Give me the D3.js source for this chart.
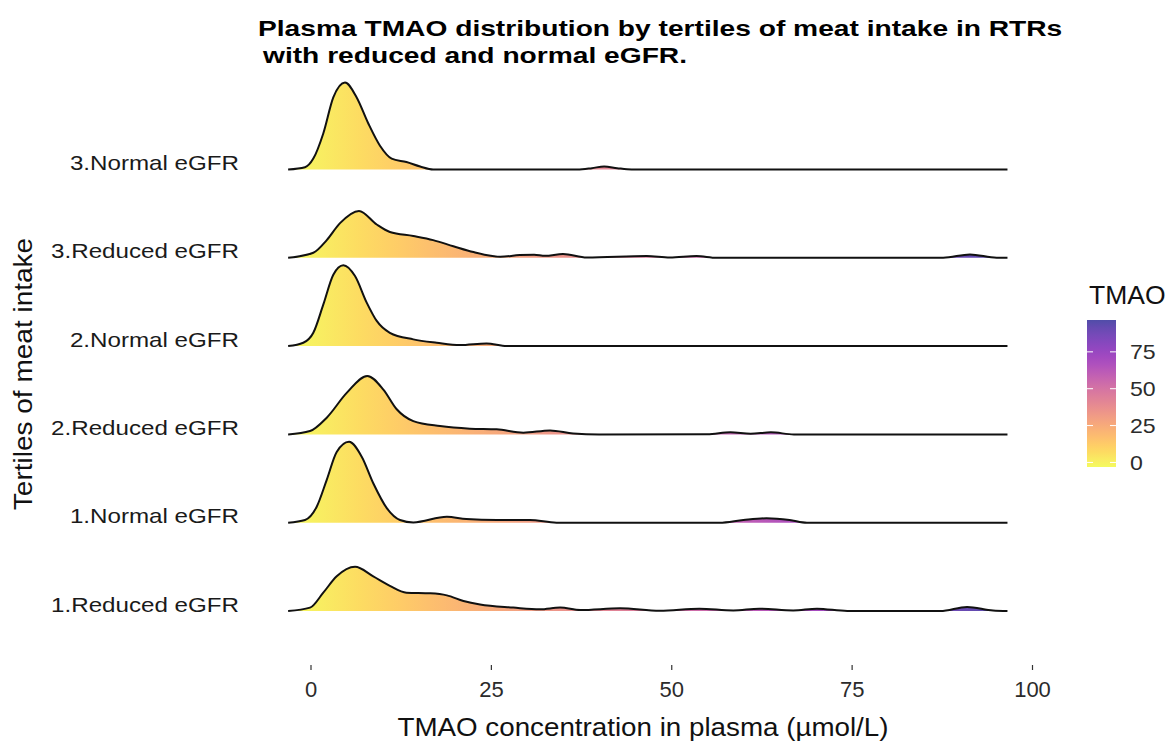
<!DOCTYPE html>
<html>
<head>
<meta charset="utf-8">
<script src="https://cdn.jsdelivr.net/npm/d3@7"></script>
<style>
  body { margin: 0; background: #fff; }
  text { font-family: "Liberation Sans", Arial, sans-serif; }
</style>
</head>
<body>
<div id="chart"></div>
<script>
var categories = ['1.Reduced eGFR', '1.Normal eGFR', '2.Reduced eGFR',
                  '2.Normal eGFR', '3.Reduced eGFR', '3.Normal eGFR'];

// density curves: [TMAO, density]
var reduced1 = [[-3.1, 0], [-0.07, 0.0049], [1.77, 0.027], [3.63, 0.051], [6.17, 0.065],
  [8.7, 0.051], [11.0, 0.037], [13.3, 0.027], [16.6, 0.026], [18.9, 0.023], [21.2, 0.0147],
  [23.5, 0.0094], [28.1, 0.005], [31.8, 0.0025], [34.6, 0.005], [37.4, 0.0015], [42.9, 0.004],
  [48.4, 0.0002], [53.9, 0.0034], [58.6, 0.0007], [62.2, 0.0034], [66.9, 0.0007], [70.2, 0.0034],
  [74.4, 0], [87.3, 0], [91.0, 0.006], [94.6, 0.0007], [96.6, 0]];
var normal1 = [[-3.1, 0], [-0.76, 0.004], [0.86, 0.0235], [2.25, 0.063], [3.63, 0.104],
  [5.34, 0.119], [7.1, 0.097], [8.7, 0.058], [10.6, 0.021], [12.4, 0.004], [14.25, 0.0004],
  [18.9, 0.0088], [21.6, 0.0054], [25.8, 0.004], [30.4, 0.004], [34.1, 0], [56.7, 0],
  [60, 0.004], [63.2, 0.0065], [66.4, 0.004], [68.8, 0], [96.6, 0]];
var reduced2 = [[-3.1, 0], [-0.07, 0.0049], [2.25, 0.0246], [5.02, 0.061], [7.87, 0.086],
  [10.1, 0.066], [11.95, 0.037], [14.25, 0.0196], [17.95, 0.0122], [22.1, 0.0084],
  [25.8, 0.0074], [29.5, 0.0025], [33.2, 0.0059], [36.4, 0.0015], [40, 0], [55, 0.0002],
  [58.2, 0.003], [61, 0.001], [63.8, 0.003], [67, 0], [96.6, 0]];
var normal2 = [[-3.1, 0], [-1.0, 0.0049], [0.39, 0.0196], [1.77, 0.061], [3.16, 0.105],
  [4.55, 0.119], [6.17, 0.103], [7.79, 0.064], [9.18, 0.037], [11.0, 0.0196], [14.25, 0.0099],
  [17.5, 0.0049], [20.7, 0.0015], [24.4, 0.004], [27.2, 0], [96.6, 0]];
var reduced3 = [[-3.1, 0], [0.39, 0.0074], [2.25, 0.026], [4.09, 0.051], [6.72, 0.069],
  [9.18, 0.049], [11.0, 0.038], [14.25, 0.032], [17.0, 0.026], [19.8, 0.017], [22.6, 0.0084],
  [26.3, 0.0015], [29, 0.004], [31, 0.0045], [32.5, 0.003], [35, 0.0055], [38.3, 0.0003],
  [46.6, 0.0025], [49.8, 0.0003], [53.5, 0.0025], [56.3, 0], [87.7, 0], [91.4, 0.005],
  [95.1, 0], [96.6, 0]];
var normal3 = [[-3.1, 0], [-0.76, 0.0034], [0.39, 0.016], [1.77, 0.053], [3.16, 0.106],
  [4.78, 0.128], [6.4, 0.106], [8.0, 0.068], [9.63, 0.035], [11.25, 0.016], [13.3, 0.011],
  [15.2, 0.0044], [17.0, 0], [37, 0], [39, 0.002], [40.7, 0.0045], [42.5, 0.002], [44.5, 0],
  [96.6, 0]];

var curves = [reduced1, normal1, reduced2, normal2, reduced3, normal3];
var xTicks = [0, 25, 50, 75, 100];
var legendTicks = [0, 25, 50, 75];
var tmaoRange = [-3.1, 96.6];

var w = 1176, h = 742;

var svg = d3.select('#chart').append('svg')
  .attr('width', w).attr('height', h);

var x = d3.scaleLinear().domain([0, 100]).range([310.5, 1032]);
var y = d3.scalePoint().domain(categories).range([611, 169.5]);
var dens = d3.scaleLinear().domain([0, 0.13]).range([0, 88.4]);

// the picture's lettering runs a bit wider than Liberation Sans
function stretch(sel, k) {
  sel.each(function() {
    var len = this.getComputedTextLength();
    d3.select(this).attr('textLength', len * k).attr('lengthAdjust', 'spacingAndGlyphs');
  });
}

// gradient by TMAO value, shared by every ridge
var defs = svg.append('defs');
var stops = d3.range(0, 1.0001, 0.05);
defs.append('linearGradient')
  .attr('id', 'ridgeFill')
  .attr('gradientUnits', 'userSpaceOnUse')
  .attr('x1', x(tmaoRange[0])).attr('x2', x(tmaoRange[1]))
  .attr('y1', 0).attr('y2', 0)
  .selectAll('stop').data(stops).enter().append('stop')
  .attr('offset', function(d) { return d; })
  .attr('stop-color', function(d) { return d3.interpolatePlasma(1 - d); });

defs.append('linearGradient')
  .attr('id', 'legendFill')
  .attr('x1', 0).attr('x2', 0).attr('y1', 1).attr('y2', 0)
  .selectAll('stop').data(stops).enter().append('stop')
  .attr('offset', function(d) { return d; })
  .attr('stop-color', function(d) { return d3.interpolatePlasma(1 - d); });

var area = d3.area()
  .x(function(d) { return x(d[0]); })
  .y0(0)
  .y1(function(d) { return -dens(d[1]); })
  .curve(d3.curveMonotoneX);
var line = area.lineY1();

// top ridge first so lower ones sit in front
var ridges = svg.selectAll('g.ridge')
  .data(d3.range(categories.length).reverse())
  .enter().append('g')
  .attr('class', 'ridge')
  .attr('transform', function(i) { return 'translate(0,' + y(categories[i]) + ')'; });

ridges.append('path')
  .attr('d', function(i) { return area(curves[i]); })
  .attr('fill', 'url(#ridgeFill)')
  .attr('fill-opacity', 0.72);

ridges.append('path')
  .attr('d', function(i) { return line(curves[i]); })
  .attr('fill', 'none')
  .attr('stroke', '#111')
  .attr('stroke-width', 2);

// y labels
svg.selectAll('text.ylab')
  .data(categories)
  .enter().append('text')
  .attr('class', 'ylab')
  .text(function(d) { return d; })
  .attr('x', 239)
  .attr('y', function(d) { return y(d) + 0.5; })
  .attr('text-anchor', 'end')
  .attr('font-size', '21px')
  .attr('fill', '#1a1a1a')
  .call(stretch, 1.15);

// x axis
var xAxis = svg.append('g')
  .attr('transform', 'translate(0,665)')
  .call(d3.axisBottom(x).tickValues(xTicks).tickSize(5));
xAxis.select('.domain').remove();
xAxis.selectAll('line').attr('stroke', '#333').attr('stroke-width', 1.2);
xAxis.selectAll('text')
  .attr('y', 32).attr('dy', null)
  .attr('font-size', '22px')
  .attr('fill', '#2b2b2b')
  .style('font-family', '"Liberation Sans", Arial, sans-serif');

svg.append('text')
  .text('TMAO concentration in plasma (µmol/L)')
  .attr('x', 643).attr('y', 736)
  .attr('text-anchor', 'middle')
  .attr('font-size', '25px')
  .attr('fill', '#111')
  .call(stretch, 1.11);

svg.append('text')
  .text('Tertiles of meat intake')
  .attr('transform', 'translate(32,374) rotate(-90)')
  .attr('text-anchor', 'middle')
  .attr('font-size', '25px')
  .attr('fill', '#111')
  .call(stretch, 1.12);

// title
svg.append('text')
  .text('Plasma TMAO distribution by tertiles of meat intake in RTRs')
  .attr('x', 258).attr('y', 36)
  .attr('font-size', '22px')
  .attr('font-weight', 'bold')
  .call(stretch, 1.28);
svg.append('text')
  .text('with reduced and normal eGFR.')
  .attr('x', 263).attr('y', 63)
  .attr('font-size', '22px')
  .attr('font-weight', 'bold')
  .call(stretch, 1.28);

// colour legend
var ly = d3.scaleLinear().domain(tmaoRange).range([467, 320]);
var legend = svg.append('g');

legend.append('text')
  .text('TMAO')
  .attr('x', 1089).attr('y', 304)
  .attr('font-size', '25px')
  .attr('fill', '#111')
  .call(stretch, 1.06);

legend.append('rect')
  .attr('x', 1087).attr('y', 320)
  .attr('width', 29).attr('height', 147)
  .attr('fill', 'url(#legendFill)')
  .attr('fill-opacity', 0.72);

legend.selectAll('line.lt')
  .data(legendTicks.concat(legendTicks))
  .enter().append('line')
  .attr('x1', function(d, i) { return i < legendTicks.length ? 1087 : 1110; })
  .attr('x2', function(d, i) { return i < legendTicks.length ? 1093 : 1116; })
  .attr('y1', function(d) { return ly(d); })
  .attr('y2', function(d) { return ly(d); })
  .attr('stroke', '#fff')
  .attr('stroke-width', 1);

legend.selectAll('text.ll')
  .data(legendTicks)
  .enter().append('text')
  .attr('class', 'll')
  .text(function(d) { return d; })
  .attr('x', 1130)
  .attr('y', function(d) { return ly(d); })
  .attr('dy', '0.36em')
  .attr('font-size', '21px')
  .attr('fill', '#2b2b2b')
  .call(stretch, 1.1);
</script>
</body>
</html>
